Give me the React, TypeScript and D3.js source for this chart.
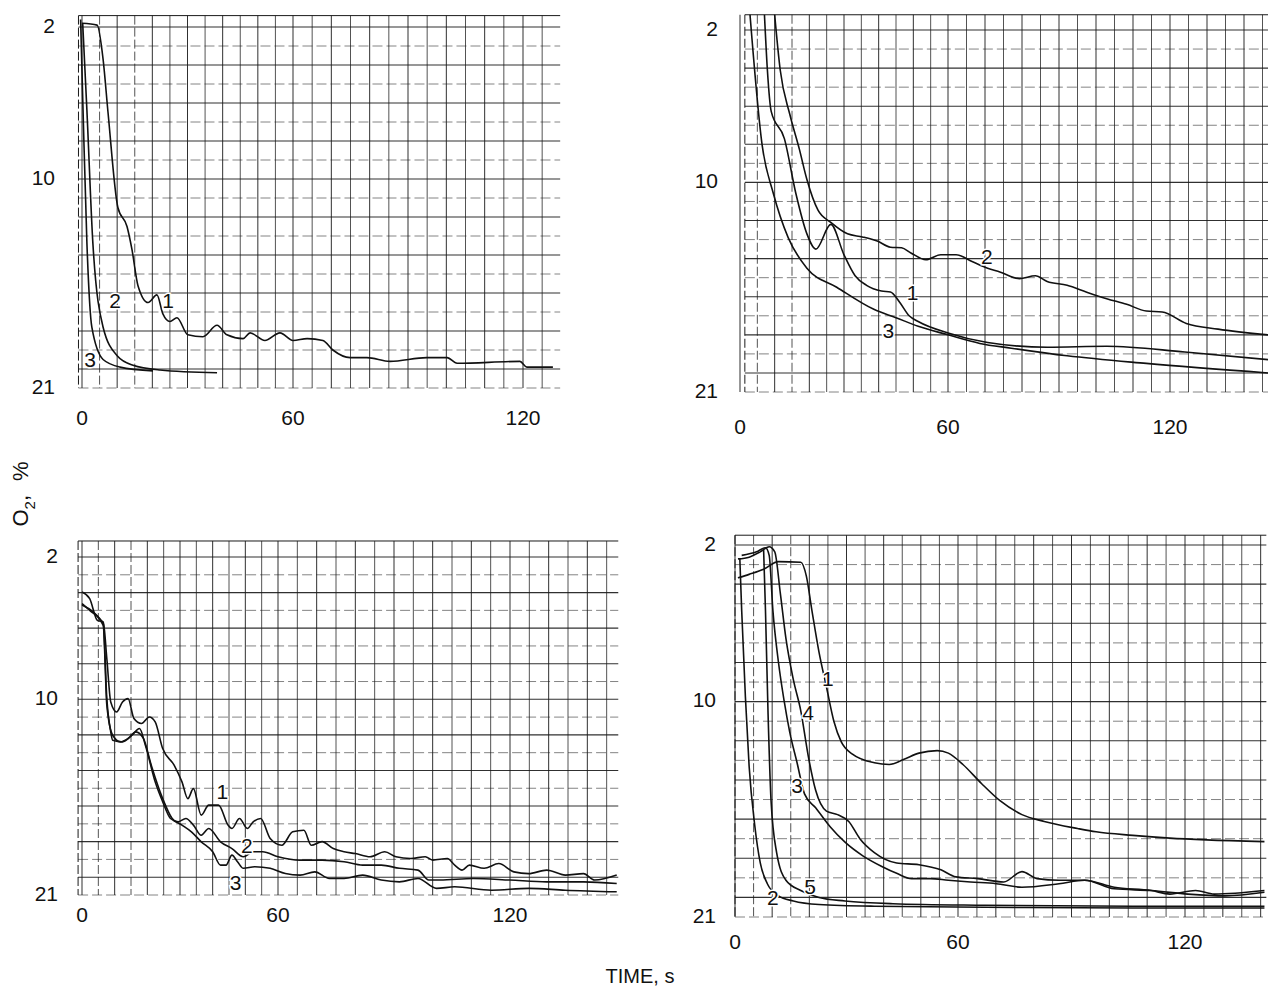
import React from "react";
import * as d3 from "d3";

type Pt = [number, number];
type Tag = { text: string; t: number; v: number };

const xTicks = [0, 60, 120];
const yTicks = [2, 10, 21];

// top left panel, O2 % vs time s
const a1: Pt[] = [[0, 1.8], [4.3, 1.9], [6.0, 3.7], [7.4, 6.5], [10.2, 11.5], [12.8, 12.5], [14.2, 13.7], [15.9, 15.6], [18.8, 16.5], [21.3, 16.1], [23.0, 17.1], [25.0, 17.5], [27.0, 17.3], [30.1, 18.2], [34.4, 18.3], [38.4, 17.7], [41.2, 18.2], [45.8, 18.4], [47.8, 18.1], [52.0, 18.5], [56.3, 18.1], [60, 18.5], [63.7, 18.4], [67.8, 18.5], [70.4, 19.0], [74.9, 19.4], [79.3, 19.4], [85.3, 19.6], [94.9, 19.4], [100.2, 19.4], [102.8, 19.7], [119.2, 19.6], [121, 19.9], [127.8, 19.9]];
const a2: Pt[] = [[0.2, 1.8], [1.4, 6.4], [3.1, 13.4], [6.0, 17.8], [10, 19.3], [14.5, 19.8], [22.2, 20.05], [38.4, 20.2]];
const a3: Pt[] = [[-0.4, 1.6], [0.3, 6.4], [1.4, 13.4], [2.8, 17.8], [6, 19.5], [10.8, 19.9], [20.2, 20.1]];
const aTags: Tag[] = [{ text: "1", t: 24.5, v: 16.5 }, { text: "2", t: 9.4, v: 16.5 }, { text: "3", t: 2.3, v: 19.6 }];

// top right panel
const b1: Pt[] = [[7, 1.0], [7.9, 4.1], [9.0, 6.27], [12.8, 7.7], [16.1, 10.57], [19.3, 12.7], [21.9, 13.5], [26.2, 12.2], [30.0, 13.8], [33.2, 14.9], [36.5, 15.4], [40.8, 15.7], [43.4, 15.75], [46.1, 16.3], [48.8, 17.0], [51.4, 17.3], [60.0, 17.9], [70.7, 18.4], [86.8, 18.65], [102.9, 18.6], [124, 18.9], [146.5, 19.3]];
const b2: Pt[] = [[9.9, 1.0], [11.6, 4.1], [14.4, 6.45], [17.1, 8.24], [19.3, 9.85], [22.5, 11.46], [26.2, 12.1], [31.0, 12.7], [35.3, 12.86], [39.6, 13.08], [43.4, 13.4], [46.6, 13.43], [49.3, 13.7], [53.6, 14.06], [57.9, 13.8], [62.2, 13.8], [66.5, 14.15], [70.7, 14.5], [74.0, 14.7], [79.3, 15.05], [83.6, 14.9], [86.8, 15.2], [92.2, 15.4], [97.5, 15.76], [102.9, 16.1], [108.3, 16.4], [113.6, 16.75], [117.9, 16.8], [124.4, 17.4], [133, 17.7], [146.5, 18.0]];
const b3: Pt[] = [[2.8, 1.0], [6.4, 8.06], [9.6, 10.57], [13.9, 12.9], [19.3, 14.5], [27.9, 15.5], [38.6, 16.66], [45.0, 17.1], [51.4, 17.55], [60.0, 18.0], [68.6, 18.45], [77.1, 18.7], [92.2, 19.1], [113.6, 19.5], [146.5, 20.0]];
const bTags: Tag[] = [{ text: "2", t: 70.5, v: 13.97 }, { text: "1", t: 49.8, v: 15.9 }, { text: "3", t: 42.8, v: 17.9 }];

// bottom left panel
const c1: Pt[] = [[0, 3.97], [2.35, 4.34], [4.7, 5.56], [6.5, 5.65], [7.6, 7.71], [8.8, 10.15], [10.6, 10.71], [12.4, 10.15], [14.1, 9.96], [15.9, 11.08], [18.2, 11.36], [20.6, 10.99], [22.4, 11.27], [24.7, 12.77], [28.2, 13.7], [30.6, 14.64], [32.4, 15.58], [34.1, 15.02], [36.5, 16.51], [38.8, 15.95], [41.8, 15.95], [44.7, 17.07], [45.9, 17.26], [48.2, 16.7], [50.6, 17.26], [52.4, 16.89], [54.7, 16.7], [57.6, 17.82], [61.0, 18.2], [63.8, 17.45], [66.7, 17.36], [68.6, 18.2], [71.4, 18.0], [74.3, 18.39], [77.1, 18.57], [80.0, 18.67], [83.8, 18.85], [87.6, 18.57], [90.5, 18.85], [94.3, 18.95], [98.1, 18.85], [100, 19.04], [103.8, 18.95], [105.7, 19.32], [107.6, 19.6], [109.5, 19.32], [113.3, 19.5], [117.1, 19.23], [121, 19.7], [124.8, 19.8], [129.5, 19.6], [134.3, 19.88], [139, 19.8], [141.9, 20.16], [147.6, 19.88]];
const c2: Pt[] = [[0, 4.62], [2.35, 5.0], [6.5, 5.75], [7.6, 9.96], [8.8, 11.83], [9.4, 12.3], [12.4, 12.39], [15.3, 12.02], [17.6, 11.64], [19.4, 12.58], [22.4, 14.64], [24.7, 15.76], [27.1, 16.7], [29.4, 16.89], [31.8, 16.7], [34.1, 17.07], [36.5, 17.64], [38.8, 17.26], [42.4, 18.01], [45.9, 18.39], [49.4, 18.85], [52.4, 18.57], [55.3, 18.57], [60, 18.85], [65.7, 19.04], [71.4, 19.04], [77.1, 19.13], [81.9, 19.32], [86.7, 19.32], [91.4, 19.5], [96.2, 19.6], [99, 20.16], [101.9, 20.16], [110.5, 20.07], [120, 20.16], [129.5, 20.26], [139, 20.26], [147.6, 20.35]];
const c3: Pt[] = [[0, 4.7], [6.5, 5.84], [7.6, 10.33], [9.4, 12.02], [11.8, 12.39], [14.1, 12.2], [16.5, 11.83], [18.8, 12.2], [21.2, 13.7], [24.7, 15.58], [27.6, 16.7], [30.6, 17.07], [33.5, 17.45], [36.5, 18.01], [40, 18.57], [42.4, 19.32], [44.1, 19.32], [45.9, 18.76], [47.6, 19.13], [49.4, 19.5], [52.9, 19.41], [57.6, 19.5], [61.9, 19.79], [65.7, 19.88], [69.5, 19.7], [73.3, 20.07], [77.1, 20.07], [81.9, 19.88], [86.7, 20.16], [91.4, 20.26], [96.2, 20.07], [101, 20.63], [105.7, 20.54], [115.2, 20.73], [124.8, 20.63], [134.3, 20.73], [147.6, 20.82]];
const cTags: Tag[] = [{ text: "1", t: 43, v: 15.3 }, { text: "2", t: 50.5, v: 18.3 }, { text: "3", t: 47, v: 20.4 }];

// bottom right panel
const d1: Pt[] = [[0.8, 3.68], [3.8, 3.5], [7.7, 3.24], [11.7, 2.85], [17.7, 2.88], [19.2, 3.59], [20.7, 5.35], [22.6, 7.47], [24.6, 9.24], [26.6, 11.0], [28.6, 12.06], [31.6, 12.68], [37.5, 13.12], [41.5, 13.21], [45.5, 12.94], [49.5, 12.63], [54.4, 12.5], [57.4, 12.63], [61.3, 13.21], [66.2, 14.18], [71.1, 15.06], [76.9, 15.77], [82.8, 16.12], [91.6, 16.48], [96.5, 16.65], [106.2, 16.83], [116, 16.97], [125.7, 17.06], [141, 17.15]];
const d2: Pt[] = [[1.3, 2.71], [1.8, 5.35], [2.8, 9.77], [3.8, 13.3], [5.3, 16.3], [6.8, 18.24], [8.7, 19.3], [11.7, 19.92], [15.7, 20.18], [22.6, 20.36], [37.5, 20.45], [67.2, 20.5], [106.2, 20.54], [141, 20.54]];
const d3c: Pt[] = [[1.8, 2.53], [5.8, 2.35], [8.2, 2.14], [9.2, 2.53], [10.2, 5.35], [11.7, 8.0], [13.2, 9.94], [14.7, 11.53], [16.7, 13.12], [18.7, 14.71], [21.7, 15.42], [25.6, 16.39], [29.6, 17.18], [34.5, 17.89], [39.5, 18.42], [43.5, 18.77], [47.5, 19.04], [52.5, 19.04], [57.4, 19.12], [63.3, 19.21], [70.1, 19.3], [76.9, 19.48], [86.7, 19.3], [93.5, 19.12], [101.3, 19.56], [111.1, 19.65], [120.8, 19.83], [130.6, 19.92], [141, 19.74]];
const d4: Pt[] = [[0.8, 2.71], [3.8, 2.62], [6.8, 2.35], [9.2, 2.09], [10.7, 2.35], [12.2, 4.47], [13.7, 6.77], [15.7, 8.88], [17.7, 10.47], [19.7, 12.77], [21.7, 14.53], [24.6, 15.59], [27.6, 15.77], [30.6, 16.12], [33.6, 17.0], [37.5, 17.71], [43.5, 18.24], [49.5, 18.33], [55.4, 18.59], [59.4, 18.95], [65.2, 19.04], [72.1, 19.21], [76.9, 18.68], [80.9, 19.04], [86.7, 19.12], [93.5, 19.12], [101.3, 19.48], [111.1, 19.65], [116, 19.83], [122.8, 19.65], [127.7, 19.83], [141, 19.65]];
const d5: Pt[] = [[7.7, 2.26], [8.2, 5.35], [8.9, 10.65], [9.7, 15.06], [11.2, 17.71], [13.7, 19.12], [17.7, 19.65], [22.6, 20.0], [29.6, 20.18], [42.5, 20.32], [67.2, 20.4], [106.2, 20.45], [141, 20.45]];
const dTags: Tag[] = [{ text: "1", t: 25, v: 8.9 }, { text: "4", t: 19.7, v: 10.65 }, { text: "3", t: 16.7, v: 14.36 }, { text: "5", t: 20.2, v: 19.56 }, { text: "2", t: 10.2, v: 20.1 }];

const FONT = "'Liberation Sans', Arial, sans-serif";

const panels = [
  { id: "a", xr: [82, 293, 523], yr: [27, 388], tLo: -1, tHi: 129.7, vLo: 1.4, labelX: 55, tickY: 425, curves: [a1, a2, a3], tags: aTags },
  { id: "b", xr: [740, 948, 1170], yr: [30, 392], tLo: 1.4, tHi: 147, vLo: 1.2, labelX: 718, tickY: 434, curves: [b1, b2, b3], tags: bTags },
  { id: "c", xr: [82, 278, 510], yr: [557, 895], tLo: -1.2, tHi: 148, vLo: 1.1, labelX: 58, tickY: 922, curves: [c1, c2, c3], tags: cTags },
  { id: "d", xr: [735, 958, 1185], yr: [545, 917], tLo: 0, tHi: 141.5, vLo: 1.5, labelX: 716, tickY: 949, curves: [d1, d2, d3c, d4, d5], tags: dTags },
];

function Panel({ p }: { p: (typeof panels)[number] }) {
  const x = d3.scaleLinear().domain(xTicks.slice()).range(p.xr);
  const y = d3.scaleLinear().domain([2, 21]).range(p.yr);
  const line = d3.line<Pt>().x(d => x(d[0])).y(d => y(d[1])).curve(d3.curveMonotoneX);
  const x0 = x(p.tLo), x1 = x(p.tHi), y0 = y(p.vLo), y1 = y(21);
  const vLines = d3.range(0, p.tHi, 5);
  const hLines = d3.range(Math.ceil(p.vLo), 21.01, 1);

  return (
    <g>
      <defs>
        <clipPath id={"clip-" + p.id}>
          <rect x={x0} y={y0} width={x1 - x0} height={y1 - y0 + 2} />
        </clipPath>
      </defs>
      <g stroke="#1a1a1a" fill="none">
        <line x1={x0} x2={x1} y1={y0} y2={y0} strokeWidth={1} />
        <line x1={x0} x2={x0} y1={y0} y2={y1} strokeWidth={1} strokeDasharray="9 3" />
        {hLines.map(v => (
          <line key={"h" + v} x1={x0} x2={x1} y1={y(v)} y2={y(v)}
            strokeWidth={v % 2 === 0 ? 1.1 : 0.9}
            strokeDasharray={v % 2 === 0 ? undefined : "10 4"}
            strokeOpacity={v % 2 === 0 ? 0.9 : 0.6} />
        ))}
        {vLines.map(t => (
          <line key={"v" + t} x1={x(t)} x2={x(t)} y1={y0} y2={y1}
            strokeWidth={1}
            strokeDasharray={t < 25 && t % 10 !== 0 ? "9 3" : undefined}
            strokeOpacity={t % 10 === 0 ? 0.9 : 0.75} />
        ))}
      </g>
      <g clipPath={`url(#clip-${p.id})`}>
        {p.curves.map((c, i) => (
          <path key={i} d={line(c) || ""} fill="none" stroke="#111" strokeWidth={1.6} />
        ))}
      </g>
      <g fontFamily={FONT} fontSize={21} fill="#111">
        {yTicks.map(v => (
          <text key={"y" + v} x={p.labelX} y={y(v)} textAnchor="end" dominantBaseline="middle">{v}</text>
        ))}
        {xTicks.map(t => (
          <text key={"x" + t} x={x(t)} y={p.tickY} textAnchor="middle">{t}</text>
        ))}
        {p.tags.map((g, i) => (
          <text key={"g" + i} x={x(g.t)} y={y(g.v)} textAnchor="middle" dominantBaseline="middle" fontSize={21}
            stroke="#fff" strokeWidth={3} paintOrder="stroke">{g.text}</text>
        ))}
      </g>
    </g>
  );
}

export default function App() {
  return (
    <svg width={1268} height={992} style={{ position: "absolute", left: 0, top: 0, background: "#fff" }}>
      <rect width={1268} height={992} fill="#fff" />
      {panels.map(p => <Panel key={p.id} p={p} />)}
      <text transform="translate(28,494) rotate(-90)" fontFamily={FONT} fontSize={22} fill="#111" textAnchor="middle">
        O<tspan fontSize={15} dy={7}>2</tspan><tspan dy={-7}>,</tspan><tspan dx={14}>%</tspan>
      </text>
      <text x={640} y={983} fontFamily={FONT} fontSize={20} fill="#111" textAnchor="middle">TIME, s</text>
    </svg>
  );
}
